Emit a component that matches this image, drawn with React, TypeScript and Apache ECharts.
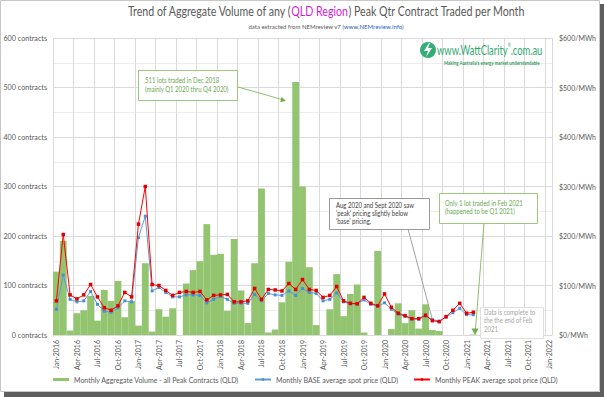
import React, { useEffect, useRef } from 'react';
import * as echarts from 'echarts';

const monthNames = ['Jan', 'Feb', 'Mar', 'Apr', 'May', 'Jun', 'Jul', 'Aug', 'Sep', 'Oct', 'Nov', 'Dec'];
const years = [2016, 2017, 2018, 2019, 2020, 2021];
const categories: string[] = [];
years.forEach((y) => monthNames.forEach((m) => categories.push(`${m}-${y}`)));
categories.push('Jan-2022');

// Monthly aggregate volume (contracts), Jan-2016 .. Feb-2021
const volume = [
  128, 190, 9, 44, 50, 79, 29, 91, 69, 109, 36, 69,
  19, 145, 7, 52, 37, 54, 0, 104, 131, 149, 224, 162,
  164, 49, 194, 90, 24, 145, 296, 5, 11, 66, 148, 511,
  300, 137, 20, 0, 52, 123, 38, 83, 102, 5, 0, 170,
  0, 12, 64, 24, 50, 13, 62, 10, 8, 0, 0, 0,
  0, 1,
];

// Monthly BASE average spot price ($/MWh)
const basePrice = [
  52, 121, 72, 67, 69, 88, 62, 48, 46, 55, 69, 67,
  197, 240, 89, 96, 86, 77, 77, 81, 81, 80, 65, 72,
  78, 72, 64, 64, 64, 82, 69, 84, 81, 80, 89, 80,
  94, 86, 84, 69, 72, 85, 67, 63, 63, 71, 62, 58,
  65, 52, 42, 38, 32, 32, 38, 31, 28, 36, 45, 54,
  41, 41,
];

// Monthly PEAK average spot price ($/MWh)
const peakPrice = [
  69, 203, 81, 73, 81, 102, 77, 55, 50, 59, 86, 77,
  224, 300, 102, 100, 90, 80, 86, 88, 86, 88, 71, 80,
  81, 82, 67, 67, 69, 94, 72, 92, 91, 89, 104, 92,
  112, 92, 90, 76, 80, 98, 69, 64, 63, 76, 64, 59,
  83, 56, 44, 39, 33, 33, 40, 29, 27, 37, 50, 64,
  44, 46,
];

const FONT = 'Lato';
const GRID_COLOR = '#dadada';
const TEXT_COLOR = '#595959';
const GREEN_TEXT = '#6aa84f';
const GREEN_BORDER = '#9cc77f';

const seriesNames = {
  vol: 'Monthly Aggregate Volume - all Peak Contracts (QLD)',
  base: 'Monthly BASE average spot price (QLD)',
  peak: 'Monthly PEAK average spot price (QLD)',
};

function textEl(x: number, y: number, text: string, size: number, color: string, scaleX = 1, extra: any = {}) {
  return {
    type: 'text',
    x,
    y,
    z: 110,
    scaleX,
    style: { text, fontSize: size, fill: color, fontFamily: FONT, ...extra },
  };
}

export default function App() {
  const ref = useRef<HTMLDivElement>(null);

  useEffect(() => {
    if (!ref.current) return;
    const chart = echarts.init(ref.current, null, { renderer: 'svg' });

    const legendCommon = {
      top: 376,
      padding: 0,
      itemGap: 4,
      textStyle: { fontSize: 7, color: TEXT_COLOR, fontFamily: FONT },
    };

    chart.setOption({
      animation: false,
      backgroundColor: '#ffffff',
      textStyle: { fontFamily: FONT },
      grid: { left: 53, right: 52, top: 38, bottom: 62, containLabel: false },
      legend: [
        { ...legendCommon, left: 53, data: [{ name: seriesNames.vol, icon: 'rect' }], itemWidth: 16, itemHeight: 3 },
        { ...legendCommon, left: 254, data: [seriesNames.base], itemWidth: 16, itemHeight: 3 },
        { ...legendCommon, left: 413, data: [seriesNames.peak], itemWidth: 16, itemHeight: 3 },
      ],
      xAxis: {
        type: 'category',
        data: categories,
        boundaryGap: true,
        axisLine: { show: true, lineStyle: { color: GRID_COLOR } },
        axisTick: { show: false, interval: 2 },
        axisLabel: { interval: 2, rotate: 90, fontSize: 7, color: TEXT_COLOR, margin: 5, fontFamily: FONT },
        splitLine: { show: true, interval: 2, lineStyle: { color: GRID_COLOR, width: 1 } },
      },
      yAxis: [
        {
          type: 'value',
          min: 0,
          max: 600,
          interval: 100,
          axisLine: { show: false },
          axisTick: { show: false },
          axisLabel: { formatter: '{value} contracts', fontSize: 7.2, color: TEXT_COLOR, margin: 6, fontFamily: FONT },
          splitLine: { show: true, lineStyle: { color: GRID_COLOR } },
          minorTick: { show: false, splitNumber: 2 },
          minorSplitLine: { show: true, lineStyle: { color: '#ededed' } },
        },
        {
          type: 'value',
          min: 0,
          max: 600,
          interval: 100,
          position: 'right',
          axisLine: { show: false },
          axisTick: { show: false },
          axisLabel: { formatter: '${value}/MWh', fontSize: 7, color: TEXT_COLOR, margin: 7, fontFamily: FONT },
          splitLine: { show: false },
        },
      ],
      series: [
        {
          name: seriesNames.vol,
          type: 'bar',
          yAxisIndex: 0,
          data: volume,
          barCategoryGap: '0%',
          itemStyle: { color: '#93c46f' },
        },
        {
          name: seriesNames.base,
          type: 'line',
          yAxisIndex: 1,
          data: basePrice,
          symbol: 'rect',
          symbolSize: 3,
          lineStyle: { color: '#5b9bd5', width: 1 },
          itemStyle: { color: '#4a8fd6' },
          z: 3,
        },
        {
          name: seriesNames.peak,
          type: 'line',
          yAxisIndex: 1,
          data: peakPrice,
          symbol: 'rect',
          symbolSize: 3.5,
          lineStyle: { color: '#ff0000', width: 1 },
          itemStyle: { color: '#e00000' },
          z: 4,
        },
      ],
      graphic: [
        // frame and shadow
        { type: 'rect', z: 0, silent: true, shape: { x: 0.5, y: 0.5, width: 599, height: 391 }, style: { fill: 'none', stroke: '#c8c8c8', lineWidth: 1 } },
        { type: 'rect', z: 100, silent: true, shape: { x: 600, y: 4, width: 4, height: 393 }, style: { fill: '#5e5e5e' } },
        { type: 'rect', z: 100, silent: true, shape: { x: 4, y: 392, width: 600, height: 5 }, style: { fill: '#5e5e5e' } },
        // title
        {
          type: 'text',
          x: 326,
          y: 5,
          z: 100,
          scaleX: 0.85,
          style: {
            text: '{a|Trend of Aggregate Volume of any (}{b|QLD Region}{a|) Peak Qtr Contract Traded per Month}',
            align: 'center',
            rich: {
              a: { fontSize: 12.5, fill: TEXT_COLOR, fontFamily: FONT },
              b: { fontSize: 12.5, fill: '#d21cd2', fontFamily: FONT },
            },
          },
        },
        {
          type: 'text',
          x: 326,
          y: 23,
          z: 100,
          style: {
            text: '{a|data extracted from NEMreview v7 (}{b|www.NEMreview.info}{a|)}',
            align: 'center',
            rich: {
              a: { fontSize: 6, fill: TEXT_COLOR, fontFamily: FONT },
              b: { fontSize: 6, fill: '#1f5fc4', fontFamily: FONT },
            },
          },
        },
        // logo
        { type: 'circle', z: 100, shape: { cx: 428, cy: 50, r: 8 }, style: { fill: '#35ad76' } },
        { type: 'polygon', z: 101, shape: { points: [[429, 43], [424, 51], [428, 51], [426, 57], [432, 48], [428, 48], [430, 43]] }, style: { fill: '#ffffff' } },
        {
          type: 'text',
          x: 437,
          y: 43,
          z: 100,
          scaleX: 0.72,
          style: {
            text: '{a|www.WattClarity}{r|®}{a|.com.au}',
            rich: {
              a: { fontSize: 13, fill: '#2fa96f', fontFamily: FONT },
              r: { fontSize: 5, fill: '#2fa96f', fontFamily: FONT, verticalAlign: 'top' },
            },
          },
        },
        textEl(444, 60.5, "Making Australia's energy market understandable", 5.2, '#2e9a5c', 0.84, { fontWeight: 'bold' }),
        // annotation 1
        { type: 'rect', z: 100, shape: { x: 138.5, y: 70.5, width: 99, height: 30 }, style: { fill: '#ffffff', stroke: GREEN_BORDER, lineWidth: 1 } },
        textEl(145, 77, '511 lots traded in Dec 2018', 7, GREEN_TEXT, 0.86),
        textEl(145, 85.5, '(mainly Q1 2020 thru Q4 2020)', 7, GREEN_TEXT, 0.86),
        { type: 'line', z: 100, shape: { x1: 238, y1: 87, x2: 282, y2: 99.5 }, style: { stroke: '#8cbf6c', lineWidth: 1 } },
        { type: 'polygon', z: 100, shape: { points: [[286, 101], [280.2, 102], [281.6, 97]] }, style: { fill: '#6fae49' } },
        // annotation 2
        { type: 'line', z: 100, shape: { x1: 408, y1: 229, x2: 432, y2: 318 }, style: { stroke: '#a0a0a0', lineWidth: 1 } },
        { type: 'rect', z: 101, shape: { x: 329.5, y: 198.5, width: 100, height: 31 }, style: { fill: '#ffffff', stroke: '#9a9a9a', lineWidth: 1 } },
        textEl(336, 201.5, 'Aug 2020 and Sept 2020 saw', 7, '#404040', 0.86),
        textEl(336, 209.8, "'peak' pricing slightly below", 7, '#404040', 0.86),
        textEl(336, 218.1, "'base' pricing.", 7, '#404040', 0.86),
        // annotation 3
        { type: 'line', z: 100, shape: { x1: 484, y1: 223, x2: 475.4, y2: 330 }, style: { stroke: '#8cbf6c', lineWidth: 1 } },
        { type: 'polygon', z: 100, shape: { points: [[471.5, 328.5], [478.5, 328.5], [475, 335]] }, style: { fill: '#6fae49' } },
        { type: 'rect', z: 101, shape: { x: 439.5, y: 193.5, width: 98, height: 30 }, style: { fill: '#ffffff', stroke: GREEN_BORDER, lineWidth: 1 } },
        textEl(445, 199.5, 'Only 1 lot traded in Feb 2021', 7, GREEN_TEXT, 0.86),
        textEl(445, 208, '(happened to be Q1 2021)', 7, GREEN_TEXT, 0.86),
        // annotation 4
        { type: 'rect', z: 101, shape: { x: 480.5, y: 307.5, width: 63, height: 31 }, style: { fill: '#ffffff', stroke: '#dedede', lineWidth: 1 } },
        textEl(484, 308.5, 'Data is complete to', 7, '#a6a6a6', 0.86),
        textEl(484, 317, 'the the end of Feb', 7, '#a6a6a6', 0.86),
        textEl(484, 325.5, '2021', 7, '#a6a6a6', 0.86),
      ],
    });

    return () => chart.dispose();
  }, []);

  return (
    <div
      ref={ref}
      style={{ position: 'fixed', left: 0, top: 0, width: 604, height: 397, background: '#fff' }}
    />
  );
}
